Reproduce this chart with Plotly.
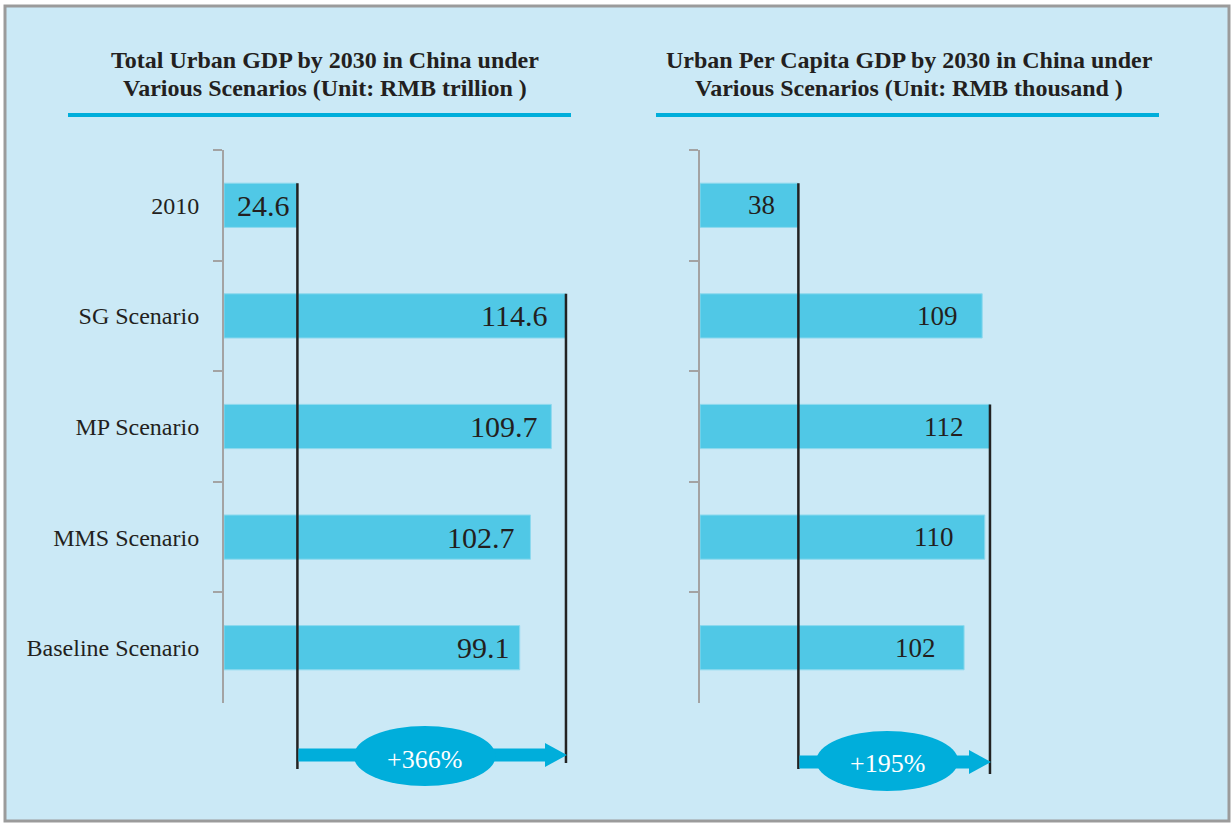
import plotly.graph_objects as go

# ---------------- data ----------------
categories = ["2010", "SG Scenario", "MP Scenario", "MMS Scenario", "Baseline Scenario"]
total_gdp = [24.6, 114.6, 109.7, 102.7, 99.1]          # RMB trillion
per_capita_gdp = [38, 109, 112, 110, 102]              # RMB thousand
total_labels = ["24.6", "114.6", "109.7", "102.7", "99.1"]
per_capita_labels = ["38", "109", "112", "110", "102"]
title_left = ["Total Urban GDP by 2030 in China under", "Various Scenarios (Unit: RMB trillion )"]
title_right = ["Urban Per Capita GDP by 2030 in China under", "Various Scenarios (Unit: RMB thousand )"]

# ---------------- style / layout ----------------
W, H = 1232, 823
BG = "#CBE9F6"
BAR = "#50C8E6"
ACCENT = "#00AEDB"
TXT = "#231F20"
AXC = "#A3A3A3"
FONT = "Liberation Serif"

y_top_px, y_bot_px = 150, 703
band = (y_bot_px - y_top_px) / len(categories)
bar_w = 0.4

panels = [
    dict(vals=total_gdp, labels=total_labels, x0=224, x1=640, ppu=2.984, xa="x", ya="y",
         xaxis="xaxis", yaxis="yaxis", gaps=[5, 17, 11, 13, 8], fsize=30,
         base_bot=769, max_bot=763, arrow_y=755, ell_y=756, txt_y=759, title=title_left,
         title_cx=325, ul=(68, 571)),
    dict(vals=per_capita_gdp, labels=per_capita_labels, x0=700, x1=1140, ppu=2.589, xa="x2", ya="y2",
         xaxis="xaxis2", yaxis="yaxis2", gaps=[21, 22, 24, 29, 26], fsize=27,
         base_bot=769, max_bot=774, arrow_y=762, ell_y=761, txt_y=763, title=title_right,
         title_cx=909, ul=(656, 1159)),
]


def px_x(p):
    return p / W


def px_y(p):
    return 1 - p / H


fig = go.Figure()
shapes = []
annotations = []

# panel background border
shapes.append(dict(type="rect", xref="paper", yref="paper", x0=px_x(5), x1=px_x(1229),
                   y0=px_y(821), y1=px_y(6), fillcolor=BG, line=dict(color="#9B9B9B", width=3),
                   layer="below"))

for i, p in enumerate(panels):
    fig.add_trace(go.Bar(
        x=p["vals"], y=categories, orientation="h", width=bar_w,
        marker=dict(color=BAR, line=dict(color="#8ED9EE", width=1)),
        xaxis=p["xa"], yaxis=p["ya"], hoverinfo="skip", showlegend=False,
    ))
    rng = (p["x1"] - p["x0"]) / p["ppu"]
    fig.update_layout({
        p["xaxis"]: dict(domain=[px_x(p["x0"]), px_x(p["x1"])], range=[0, rng], visible=False,
                         fixedrange=True),
        p["yaxis"]: dict(domain=[px_y(y_bot_px), px_y(y_top_px)], type="category",
                         categoryorder="array", categoryarray=categories,
                         range=[len(categories) - 0.5, -0.5], anchor=p["xa"],
                         showline=True, linecolor=AXC, linewidth=2,
                         ticks="outside", tickson="boundaries", ticklen=9, tickwidth=2,
                         tickcolor=AXC, showgrid=False, zeroline=False,
                         showticklabels=(i == 0), ticklabelstandoff=18,
                         tickfont=dict(family=FONT, size=24, color=TXT), fixedrange=True),
    })

    vals = p["vals"]
    base = vals[0]
    imax = max(range(len(vals)), key=lambda k: vals[k])
    vmax = vals[imax]

    # value labels (y given as category index)
    for k, (v, lab) in enumerate(zip(vals, p["labels"])):
        annotations.append(dict(x=v, y=k, xref=p["xa"], yref=p["ya"], text=lab,
                                showarrow=False, xanchor="right", yanchor="middle",
                                xshift=-p["gaps"][k],
                                font=dict(family=FONT, size=p["fsize"], color=TXT)))

    # vertical reference lines
    def bar_top(idx):
        return px_y(y_top_px + band * (idx + 0.5) - band * bar_w / 2)

    shapes.append(dict(type="line", xref=p["xa"], yref="paper", x0=base, x1=base,
                       y0=bar_top(0), y1=px_y(p["base_bot"]), line=dict(color="#222222", width=2.5),
                       layer="above"))
    shapes.append(dict(type="line", xref=p["xa"], yref="paper", x0=vmax, x1=vmax,
                       y0=bar_top(imax), y1=px_y(p["max_bot"]), line=dict(color="#222222", width=2.5),
                       layer="above"))

    # arrow
    u = 1 / p["ppu"]
    head_len = 21 * u
    ay = p["arrow_y"]
    shapes.append(dict(type="line", xref=p["xa"], yref="paper", x0=base + 1 * u, x1=vmax - head_len + 2 * u,
                       y0=px_y(ay), y1=px_y(ay), line=dict(color=ACCENT, width=13), layer="above"))
    shapes.append(dict(type="path", xref=p["xa"], yref="paper",
                       path=f"M {vmax - head_len},{px_y(ay - 12)} L {vmax + 1 * u},{px_y(ay)} "
                            f"L {vmax - head_len},{px_y(ay + 12)} Z",
                       fillcolor=ACCENT, line=dict(width=0), layer="above"))
    # ellipse
    cx = (base + vmax) / 2 - 7 * u
    ey = p["ell_y"]
    shapes.append(dict(type="circle", xref=p["xa"], yref="paper", x0=cx - 71 * u, x1=cx + 71 * u,
                       y0=px_y(ey + 30), y1=px_y(ey - 30), fillcolor=ACCENT, line=dict(width=0),
                       layer="above"))
    pct = round((vmax / base - 1) * 100)
    annotations.append(dict(x=cx, y=px_y(p["txt_y"]), xref=p["xa"], yref="paper", text=f"+{pct}%",
                            showarrow=False, xanchor="center", yanchor="middle",
                            font=dict(family=FONT, size=26, color="white")))

    # titles
    for j, line in enumerate(p["title"]):
        annotations.append(dict(x=px_x(p["title_cx"]), y=px_y(60 + 28 * j), xref="paper", yref="paper",
                                text=f"<b>{line}</b>", showarrow=False, xanchor="center",
                                yanchor="middle", font=dict(family=FONT, size=24, color=TXT)))
    shapes.append(dict(type="line", xref="paper", yref="paper", x0=px_x(p["ul"][0]), x1=px_x(p["ul"][1]),
                       y0=px_y(115), y1=px_y(115), line=dict(color=ACCENT, width=4)))

fig.update_layout(
    width=W, height=H, autosize=False,
    margin=dict(l=0, r=0, t=0, b=0, pad=0),
    paper_bgcolor="white", plot_bgcolor="rgba(0,0,0,0)",
    shapes=shapes, annotations=annotations,
    bargap=0.6, showlegend=False,
)

fig.write_html("out.html", config={"displayModeBar": False, "staticPlot": True},
               post_script="document.body.style.margin='0';document.body.style.overflow='hidden';")
